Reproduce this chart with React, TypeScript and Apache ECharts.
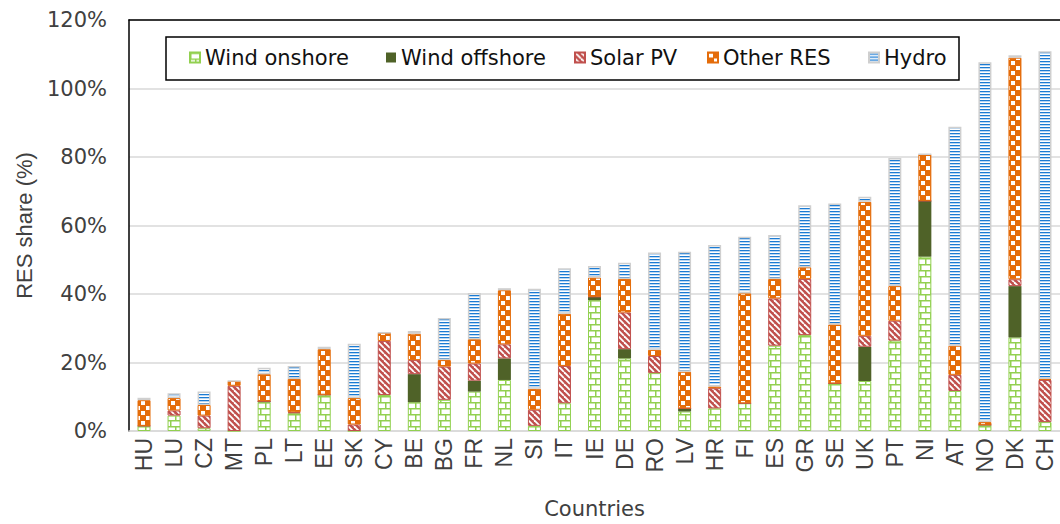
import React, { useEffect, useRef } from "react";
import * as echarts from "echarts";

const countries = ["HU","LU","CZ","MT","PL","LT","EE","SK","CY","BE","BG","FR","NL","SI","IT","IE","DE","RO","LV","HR","FI","ES","GR","SE","UK","PT","NI","AT","NO","DK","CH"];

const windOnshore = [1.5,4.5,0.8,0,8.4,5.2,10.6,0,10.5,8.4,9.1,11.5,14.9,1.5,8.1,38.2,21.2,16.9,5.7,6.6,8.1,24.9,28,13.9,14.6,26.4,50.9,11.7,1.8,27.3,2.6];
const windOffshore = [0,0,0,0,0.3,0,0,0,0,8.2,0,3.2,6.3,0,0,1.0,2.7,0,0.9,0,0,0,0,0,10,0,16.3,0,0,15,0];
const solarPV = [0,1.5,3.7,13.2,0,0.3,0,1.9,15.8,4.1,9.7,5,4.1,4.7,10.9,0,10.7,5,0,5.9,0,13.8,16.4,0,3.2,5.8,0,4.7,0,2,12.3];
const otherRES = [7.5,3.6,3.1,1.4,7.9,9.7,13.3,7.7,2.4,7.7,1.9,7.1,15.8,6.1,15.2,5.6,9.8,1.8,10.7,0.5,32.1,5.7,3.4,17.2,39.1,10.1,13.6,8.5,0.8,64.7,0.3];
const hydro = [0.7,1.4,3.9,0,1.9,3.8,0.7,15.9,0,0.8,12.3,13.5,0.6,29.2,13.3,3.4,4.7,28.4,35,41.3,16.5,12.8,18.1,35.3,1.5,37.4,0,63.9,105.1,0.7,95.7];

const seriesNames = ["Wind onshore","Wind offshore","Solar PV","Other RES","Hydro"];
const yTicks = { min: 0, max: 120, interval: 20 };

function makeTile(w: number, h: number, draw: (ctx: CanvasRenderingContext2D) => void) {
  const c = document.createElement("canvas");
  c.width = w;
  c.height = h;
  const ctx = c.getContext("2d") as CanvasRenderingContext2D;
  draw(ctx);
  return { image: c, repeat: "repeat", imageWidth: w, imageHeight: h } as any;
}

export default function App() {
  const ref = useRef<HTMLDivElement>(null);
  useEffect(() => {
    if (!ref.current) return;
    const chart = echarts.init(ref.current, undefined, { renderer: "svg" });

    const onshorePat = makeTile(10, 12, (ctx) => {
      ctx.fillStyle = "#ffffff";
      ctx.fillRect(0, 0, 10, 12);
      ctx.fillStyle = "#92D050";
      ctx.fillRect(0, 0, 10, 1.5);
      ctx.fillRect(0, 6, 10, 1.5);
      ctx.fillRect(0, 0, 1.5, 6);
      ctx.fillRect(5, 6, 1.5, 6);
    });
    const solarPat = makeTile(6, 6, (ctx) => {
      ctx.fillStyle = "#C0504D";
      ctx.fillRect(0, 0, 6, 6);
      ctx.strokeStyle = "#ffffff";
      ctx.lineWidth = 1.8;
      for (const x of [-6, 0, 6]) {
        ctx.beginPath();
        ctx.moveTo(x, 0);
        ctx.lineTo(x + 6, 6);
        ctx.stroke();
      }
    });
    const otherPat = makeTile(10, 10, (ctx) => {
      ctx.fillStyle = "#E46C0A";
      ctx.fillRect(0, 0, 10, 10);
      ctx.fillStyle = "#ffffff";
      ctx.fillRect(1, 1, 4, 4);
      ctx.fillRect(6, 6, 4, 4);
    });
    const hydroPat = makeTile(6, 3, (ctx) => {
      ctx.fillStyle = "#ffffff";
      ctx.fillRect(0, 0, 6, 3);
      ctx.fillStyle = "#1B7BD3";
      ctx.fillRect(0, 1, 6, 1.3);
    });

    const styles = [
      { color: onshorePat, borderColor: "#92D050", borderWidth: 1 },
      { color: "#4F6228", borderColor: "#4F6228", borderWidth: 0 },
      { color: solarPat, borderColor: "#C0504D", borderWidth: 1 },
      { color: otherPat, borderColor: "#E46C0A", borderWidth: 1 },
      { color: hydroPat, borderColor: "#CFCFCF", borderWidth: 1.5 },
    ];
    const datas = [windOnshore, windOffshore, solarPV, otherRES, hydro];
    const legendLeft = [189, 386, 574, 707, 868];

    chart.setOption({
      animation: false,
      backgroundColor: "#ffffff",
      grid: { left: 129, top: 20, width: 932, bottom: 90, containLabel: false },
      legend: seriesNames.map((n, i) => ({
        data: [n],
        left: legendLeft[i],
        top: 47,
        padding: 0,
        itemWidth: 10,
        itemHeight: 10,
        icon: "rect",
        selectedMode: false,
        z: 10,
        textStyle: { fontFamily: "DejaVu Sans", fontSize: 21, color: "#111111", padding: [0, 0, 0, 0] },
      })),
      graphic: [
        {
          type: "rect",
          z: 5,
          shape: { x: 166, y: 37, width: 793, height: 43 },
          style: { fill: "#ffffff", stroke: "#000000", lineWidth: 1.5 },
        },
      ],
      xAxis: [
        {
          type: "category",
          data: countries,
          axisLine: { lineStyle: { color: "#D9D9D9", width: 1.5 } },
          axisTick: { show: false },
          axisLabel: {
            interval: 0,
            rotate: 90,
            margin: 7,
            fontFamily: "Liberation Sans",
            fontSize: 23,
            color: "#404040",
          },
          name: "Countries",
          nameLocation: "middle",
          nameGap: 67,
          nameTextStyle: { fontFamily: "DejaVu Sans", fontSize: 21, color: "#404040" },
        },
        {
          type: "category",
          data: countries,
          position: "top",
          axisLine: { lineStyle: { color: "#000000", width: 1.5 } },
          axisTick: { show: false },
          axisLabel: { show: false },
        },
      ],
      yAxis: {
        type: "value",
        min: yTicks.min,
        max: yTicks.max,
        interval: yTicks.interval,
        axisLine: { show: true, lineStyle: { color: "#000000", width: 1.5 } },
        axisTick: { show: false },
        splitLine: { lineStyle: { color: "#D9D9D9", width: 1.5 } },
        axisLabel: {
          formatter: "{value}%",
          margin: 22,
          fontFamily: "DejaVu Sans",
          fontSize: 21,
          color: "#404040",
        },
        name: "RES share (%)",
        nameLocation: "middle",
        nameGap: 94,
        nameTextStyle: { fontFamily: "Liberation Sans", fontSize: 22, color: "#404040" },
      },
      series: seriesNames.map((n, i) => ({
        name: n,
        type: "bar",
        stack: "total",
        barWidth: 13,
        data: datas[i],
        itemStyle: styles[i],
        emphasis: { disabled: true },
      })),
    });
    return () => chart.dispose();
  }, []);
  return (
    <div
      ref={ref}
      style={{ position: "fixed", left: 0, top: 0, width: 1060, height: 524 }}
    />
  );
}
